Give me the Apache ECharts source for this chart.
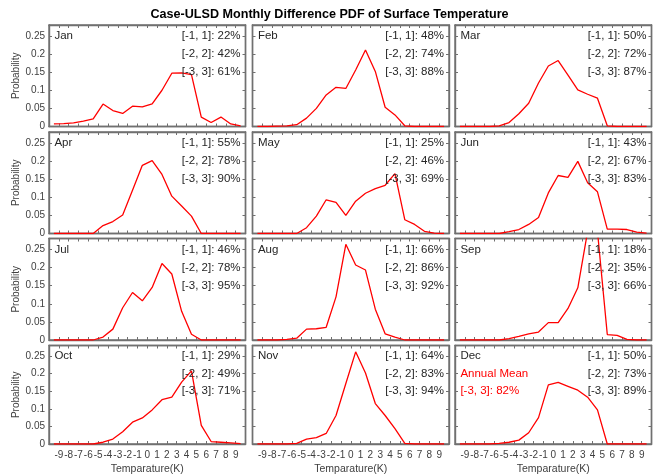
<!DOCTYPE html>
<html>
<head>
<meta charset="utf-8">
<script src="https://cdn.jsdelivr.net/npm/echarts@6.0.0/dist/echarts.min.js"></script>
<style>
  html, body { margin: 0; padding: 0; background: #fff; }
  #main { width: 659px; height: 476px; }
</style>
</head>
<body>
<div id="main"></div>
<script>
// bin centres (K)
const binCenters = [-9.5, -8.5, -7.5, -6.5, -5.5, -4.5, -3.5, -2.5, -1.5, -0.5,
                    0.5, 1.5, 2.5, 3.5, 4.5, 5.5, 6.5, 7.5, 8.5, 9.5];

const monthNames = ['Jan', 'Feb', 'Mar', 'Apr', 'May', 'Jun',
                    'Jul', 'Aug', 'Sep', 'Oct', 'Nov', 'Dec'];

// probability per bin
const jan = [0.0075, 0.008, 0.01, 0.015, 0.021, 0.062, 0.044, 0.036, 0.056, 0.054,
             0.0625, 0.1, 0.147, 0.148, 0.143, 0.026, 0.011, 0.026, 0.007, 0.002];
const feb = [0, 0, 0.001, 0.002, 0.005, 0.023, 0.05, 0.087, 0.108, 0.105,
             0.156, 0.211, 0.152, 0.053, 0.032, 0.002, 0, 0, 0, 0];
const mar = [0, 0, 0, 0, 0.002, 0.011, 0.035, 0.064, 0.12, 0.167,
             0.182, 0.142, 0.101, 0.089, 0.078, 0.002, 0, 0, 0, 0];
const apr = [0, 0, 0, 0, 0, 0.022, 0.033, 0.051, 0.119, 0.188,
             0.201, 0.163, 0.103, 0.076, 0.048, 0, 0, 0, 0, 0];
const may = [0, 0, 0, 0, 0, 0.016, 0.048, 0.093, 0.086, 0.05,
             0.089, 0.111, 0.124, 0.133, 0.165, 0.038, 0.025, 0.006, 0.001, 0];
const jun = [0, 0, 0, 0, 0, 0.005, 0.011, 0.025, 0.044, 0.112,
             0.16, 0.155, 0.199, 0.14, 0.115, 0.012, 0.012, 0.011, 0.004, 0.001];
const jul = [0, 0, 0, 0, 0, 0.008, 0.03, 0.089, 0.131, 0.108,
             0.145, 0.211, 0.182, 0.079, 0.016, 0, 0, 0, 0, 0];
const aug = [0, 0, 0, 0.002, 0.005, 0.03, 0.031, 0.035, 0.119, 0.264,
             0.207, 0.193, 0.085, 0.017, 0.008, 0, 0, 0, 0, 0];
const sep = [0, 0, 0, 0, 0, 0.004, 0.01, 0.017, 0.022, 0.048,
             0.048, 0.087, 0.144, 0.30, 0.30, 0.015, 0.013, 0.002, 0, 0];
const oct = [0, 0, 0, 0, 0, 0.005, 0.014, 0.035, 0.062, 0.074,
             0.097, 0.126, 0.133, 0.176, 0.208, 0.053, 0.007, 0.005, 0.003, 0.001];
const nov = [0, 0, 0, 0, 0.002, 0.014, 0.018, 0.03, 0.081, 0.172,
             0.262, 0.202, 0.115, 0.081, 0.044, 0.002, 0, 0, 0, 0];
const dec = [0, 0, 0, 0, 0.002, 0.005, 0.011, 0.032, 0.075, 0.168,
             0.175, 0.164, 0.153, 0.133, 0.097, 0, 0, 0, 0, 0];

// share of samples inside each range (%)
const within1 = [22, 48, 50, 55, 25, 43, 46, 66, 18, 29, 64, 50];
const within2 = [42, 74, 72, 78, 46, 67, 78, 86, 35, 49, 83, 73];
const within3 = [61, 88, 87, 90, 69, 83, 95, 92, 66, 71, 94, 89];
const annualWithin3 = 82;

const monthly = [jan, feb, mar, apr, may, jun, jul, aug, sep, oct, nov, dec];

// layout of the 4 x 3 panel grid (px)
const colLeft = [49, 252.5, 455];
const rowTop = [25, 132, 238.5, 345.5];
const panelW = 196.5;
const panelH = 101.5;

const frameColor = '#707070';
const tickText = '#404040';
const fontFamily = 'Liberation Sans, Arial, sans-serif';

const chart = echarts.init(document.getElementById('main'), null, { renderer: 'canvas' });

const grids = [];
const xAxes = [];
const yAxes = [];
const series = [];

// axis frame line, never pulled to the zero crossing
const frameLine = { show: true, onZero: false, lineStyle: { color: frameColor, width: 1.4 } };
const inTick = { show: true, inside: true, length: 3, lineStyle: { color: frameColor } };

monthly.forEach((vals, i) => {
  const r = Math.floor(i / 3);
  const c = i % 3;
  const bottomRow = r === 3;
  const leftCol = c === 0;

  grids.push({
    left: colLeft[c], top: rowTop[r], width: panelW, height: panelH,
    show: true, borderColor: frameColor, borderWidth: 1.4, backgroundColor: '#fff'
  });

  // bottom x axis
  xAxes.push({
    type: 'value', gridIndex: i, position: 'bottom', min: -10, max: 10, interval: 1,
    axisLine: frameLine,
    axisTick: inTick,
    splitLine: { show: false },
    axisLabel: {
      show: bottomRow, showMinLabel: false, showMaxLabel: false,
      fontSize: 10, color: tickText, fontFamily: fontFamily, margin: 6
    },
    name: bottomRow ? 'Temparature(K)' : '',
    nameLocation: 'middle', nameGap: 20,
    nameTextStyle: { fontSize: 10.5, color: tickText, fontFamily: fontFamily }
  });

  // left y axis
  yAxes.push({
    type: 'value', gridIndex: i, position: 'left', min: 0, max: 0.28, interval: 0.05,
    axisLine: frameLine,
    axisTick: inTick,
    splitLine: { show: false },
    axisLabel: {
      show: leftCol, showMaxLabel: false,
      fontSize: 10, color: tickText, fontFamily: fontFamily, margin: 4
    },
    name: leftCol ? 'Probability' : '',
    nameLocation: 'middle', nameGap: 27, nameRotate: 90,
    nameTextStyle: { fontSize: 10, color: tickText, fontFamily: fontFamily }
  });

  series.push({
    type: 'line', xAxisIndex: i, yAxisIndex: i,
    data: binCenters.map((x, k) => [x, vals[k]]),
    showSymbol: false, clip: true, silent: true,
    lineStyle: { color: '#ff0000', width: 1.3 }
  });
});

// mirrored tick marks on the top and right edges
monthly.forEach((vals, i) => {
  xAxes.push({
    type: 'value', gridIndex: i, position: 'top', min: -10, max: 10, interval: 1,
    axisLine: frameLine, axisTick: inTick,
    axisLabel: { show: false }, splitLine: { show: false }
  });
  yAxes.push({
    type: 'value', gridIndex: i, position: 'right', min: 0, max: 0.28, interval: 0.05,
    axisLine: frameLine, axisTick: inTick,
    axisLabel: { show: false }, splitLine: { show: false }
  });
});

chart.setOption({
  animation: false,
  backgroundColor: '#fff',
  title: {
    text: 'Case-ULSD Monthly Difference PDF of Surface Temperature',
    left: 'center', top: 3,
    textStyle: { fontSize: 12.6, fontWeight: 'bold', color: '#000', fontFamily: fontFamily }
  },
  grid: grids,
  xAxis: xAxes,
  yAxis: yAxes,
  series: series
});

// panel annotations, placed through each panel's own scales
const labelRows = [0.25, 0.2, 0.15];
const graphics = [];
const textStyle = (extra) => Object.assign({
  fontSize: 11.5, fontFamily: fontFamily, fill: '#262626', verticalAlign: 'middle'
}, extra);

monthly.forEach((vals, i) => {
  const finder = { xAxisIndex: i, yAxisIndex: i };
  const leftPt = chart.convertToPixel(finder, [-9.45, labelRows[0]]);
  graphics.push({
    type: 'text', x: leftPt[0], y: leftPt[1], silent: true, z: 10,
    style: textStyle({ text: monthNames[i], align: 'left' })
  });
  const texts = [
    '[-1, 1]: ' + within1[i] + '%',
    '[-2, 2]: ' + within2[i] + '%',
    '[-3, 3]: ' + within3[i] + '%'
  ];
  texts.forEach((t, k) => {
    const p = chart.convertToPixel(finder, [9.5, labelRows[k]]);
    graphics.push({
      type: 'text', x: p[0], y: p[1], silent: true, z: 10,
      style: textStyle({ text: t, align: 'right' })
    });
  });
});

// annual mean note in the December panel
const decIdx = 11;
const amPt = chart.convertToPixel({ xAxisIndex: decIdx, yAxisIndex: decIdx }, [-9.45, labelRows[1]]);
const am3Pt = chart.convertToPixel({ xAxisIndex: decIdx, yAxisIndex: decIdx }, [-9.45, labelRows[2]]);
graphics.push({
  type: 'text', x: amPt[0], y: amPt[1], silent: true, z: 10,
  style: textStyle({ text: 'Annual Mean', align: 'left', fill: '#ff0000' })
});
graphics.push({
  type: 'text', x: am3Pt[0], y: am3Pt[1], silent: true, z: 10,
  style: textStyle({ text: '[-3, 3]: ' + annualWithin3 + '%', align: 'left', fill: '#ff0000' })
});

chart.setOption({ graphic: graphics });
</script>
</body>
</html>
